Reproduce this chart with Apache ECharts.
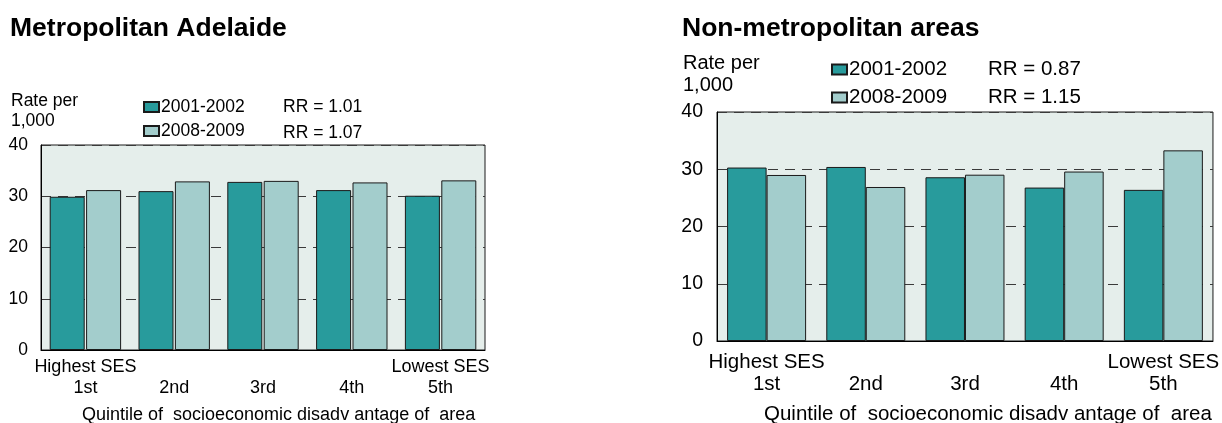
<!DOCTYPE html>
<html><head><meta charset="utf-8">
<script src="https://cdn.jsdelivr.net/npm/echarts@6/dist/echarts.min.js"></script>
<style>html,body{margin:0;padding:0;background:#fff}#c{width:1222px;height:423px}</style>
</head><body><div id="c"></div>
<script>
var quintiles = ['1st','2nd','3rd','4th','5th'];
var quintileNotes = ['Highest SES','','','','Lowest SES'];
var seriesNames = ['2001-2002','2008-2009'];
var metro2001 = [29.9, 31.0, 32.8, 31.2, 30.1];
var metro2008 = [31.2, 32.9, 33.0, 32.7, 33.1];
var nonMetro2001 = [30.3, 30.4, 28.6, 26.8, 26.4];
var nonMetro2008 = [29.0, 26.9, 29.05, 29.6, 33.3];
var metroRR = ['RR = 1.01', 'RR = 1.07'];
var nonMetroRR = ['RR = 0.87', 'RR = 1.15'];
var yTicks = [0, 10, 20, 30, 40];

var FONT = 'Liberation Sans, Arial, sans-serif';
var DARK = '#289b9c', LIGHT = '#a3cdcc', BG = '#e5eeeb';

function xAxisCfg(gi, fs, margin, lh) {
  return {
    type: 'category', gridIndex: gi, data: quintiles,
    axisLine: {show: true, lineStyle: {color: '#000', width: 1}},
    axisTick: {show: false},
    axisLabel: {
      interval: 0,
      color: '#000', fontFamily: FONT, fontSize: fs, margin: margin, lineHeight: lh,
      formatter: function (v, i) { return quintileNotes[i] + '\n' + v; }
    }
  };
}
function yAxisCfg(gi, fs, margin) {
  return {
    type: 'value', gridIndex: gi, min: yTicks[0], max: yTicks[yTicks.length-1], interval: 10,
    axisLine: {show: true, lineStyle: {color: '#000', width: 1}},
    axisTick: {show: false},
    axisLabel: {color: '#000', fontFamily: FONT, fontSize: fs, margin: margin},
    splitLine: {show: true, lineStyle: {color: '#3a3a3a', type: [10, 7], width: 1.2}}
  };
}
function bar(name, data, gi, color, bw, gap) {
  return {
    type: 'bar', name: name, data: data, xAxisIndex: gi, yAxisIndex: gi,
    barWidth: bw, barGap: gap,
    itemStyle: {color: color, borderColor: '#1a1a1a', borderWidth: 1},
    emphasis: {disabled: true}, animation: false
  };
}

var chart = echarts.init(document.getElementById('c'), null, {renderer: 'canvas'});
chart.setOption({
  animation: false,
  grid: [
    {left: 41, right: 737, top: 145, bottom: 73, show: true, backgroundColor: BG, borderColor: '#1a1a1a', borderWidth: 1},
    {left: 717, right: 7, top: 112, bottom: 82, show: true, backgroundColor: BG, borderColor: '#1a1a1a', borderWidth: 1}
  ],
  xAxis: [xAxisCfg(0, 18, 7, 21), xAxisCfg(1, 20.5, 10, 22)],
  yAxis: [yAxisCfg(0, 17.5, 13), yAxisCfg(1, 19.5, 14)],
  legend: [
    {data: seriesNames, orient: 'vertical', left: 138, top: 93, itemWidth: 15, itemHeight: 10, itemGap: 6, icon: 'rect',
     textStyle: {fontFamily: FONT, fontSize: 17.5, color: '#000', padding: [0,0,0,-3]}, selectedMode: false},
    {data: seriesNames, orient: 'vertical', left: 826, top: 54, itemWidth: 15, itemHeight: 10, itemGap: 7, icon: 'rect',
     textStyle: {fontFamily: FONT, fontSize: 20.5, color: '#000', padding: [0,0,0,-3]}, selectedMode: false}
  ],
  series: [
    bar(seriesNames[0], metro2001, 0, DARK, 35, '4%'),
    bar(seriesNames[1], metro2008, 0, LIGHT, 35, '4%'),
    bar(seriesNames[0], nonMetro2001, 1, DARK, 39.5, '0%'),
    bar(seriesNames[1], nonMetro2008, 1, LIGHT, 39.5, '0%')
  ],
  graphic: [
    {type: 'text', left: 10, top: 15, silent: true, style: {text: 'Metropolitan Adelaide', fill: '#000', font: 'bold 26.5px ' + FONT}},
    {type: 'text', left: 682, top: 15, silent: true, style: {text: 'Non-metropolitan areas', fill: '#000', font: 'bold 26.5px ' + FONT}},
    {type: 'text', left: 11, top: 91, silent: true, style: {text: 'Rate per\n1,000', fill: '#000', font: '17.5px ' + FONT, lineHeight: 20}},
    {type: 'text', left: 683, top: 52, silent: true, style: {text: 'Rate per\n1,000', fill: '#000', font: '20px ' + FONT, lineHeight: 22}},
    {type: 'text', left: 283, top: 94, silent: true, style: {text: metroRR.join('\n'), fill: '#000', font: '17.5px ' + FONT, lineHeight: 26}},
    {type: 'text', left: 988, top: 55, silent: true, style: {text: nonMetroRR.join('\n'), fill: '#000', font: '20.5px ' + FONT, lineHeight: 28}},
    {type: 'text', left: 82, top: 406, silent: true, style: {text: 'Quintile of  socioeconomic disadv antage of  area', fill: '#000', font: '18px ' + FONT}},
    {type: 'text', left: 764, top: 404, silent: true, style: {text: 'Quintile of  socioeconomic disadv antage of  area', fill: '#000', font: '20.5px ' + FONT}}
  ]
});
</script></body></html>
